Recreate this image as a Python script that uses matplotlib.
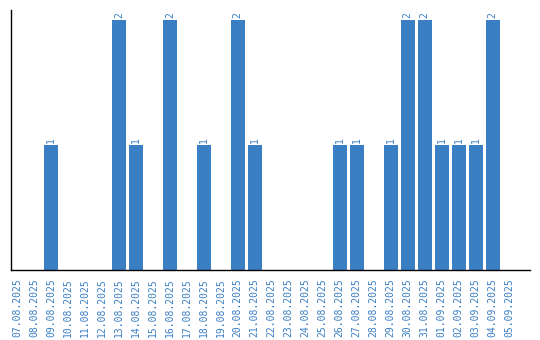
import matplotlib.pyplot as plt

dates = ['07.08.2025', '08.08.2025', '09.08.2025', '10.08.2025', '11.08.2025',
         '12.08.2025', '13.08.2025', '14.08.2025', '15.08.2025', '16.08.2025',
         '17.08.2025', '18.08.2025', '19.08.2025', '20.08.2025', '21.08.2025',
         '22.08.2025', '23.08.2025', '24.08.2025', '25.08.2025', '26.08.2025',
         '27.08.2025', '28.08.2025', '29.08.2025', '30.08.2025', '31.08.2025',
         '01.09.2025', '02.09.2025', '03.09.2025', '04.09.2025', '05.09.2025']
counts = [0, 0, 1, 0, 0, 0, 2, 1, 0, 2,
          0, 1, 0, 2, 1, 0, 0, 0, 0, 1,
          1, 0, 1, 2, 2, 1, 1, 1, 2, 0]

color = '#3a7fc4'

fig = plt.figure(figsize=(5.4, 3.4), dpi=100)
ax = fig.add_axes([11 / 540, 70 / 340, 519 / 540, 260 / 340])

x = range(len(dates))
ax.bar(x, counts, width=0.82, color=color)
for i, c in enumerate(counts):
    if c > 0:
        ax.text(i, c + 0.02, str(c), rotation=90, ha='center', va='bottom',
                color=color, fontsize=7, family='DejaVu Sans Mono')

ax.set_xlim(-0.35, 30.2)
ax.set_ylim(0, 2.08)
ax.set_xticks(list(x))
ax.set_xticklabels(dates, rotation=90, color=color, fontsize=7,
                   family='DejaVu Sans Mono')
ax.tick_params(axis='x', length=0, pad=6)
ax.set_yticks([])
ax.spines['top'].set_visible(False)
ax.spines['right'].set_visible(False)
ax.spines['left'].set_linewidth(1.0)
ax.spines['bottom'].set_linewidth(1.0)

fig.savefig('out.png', dpi=100)
